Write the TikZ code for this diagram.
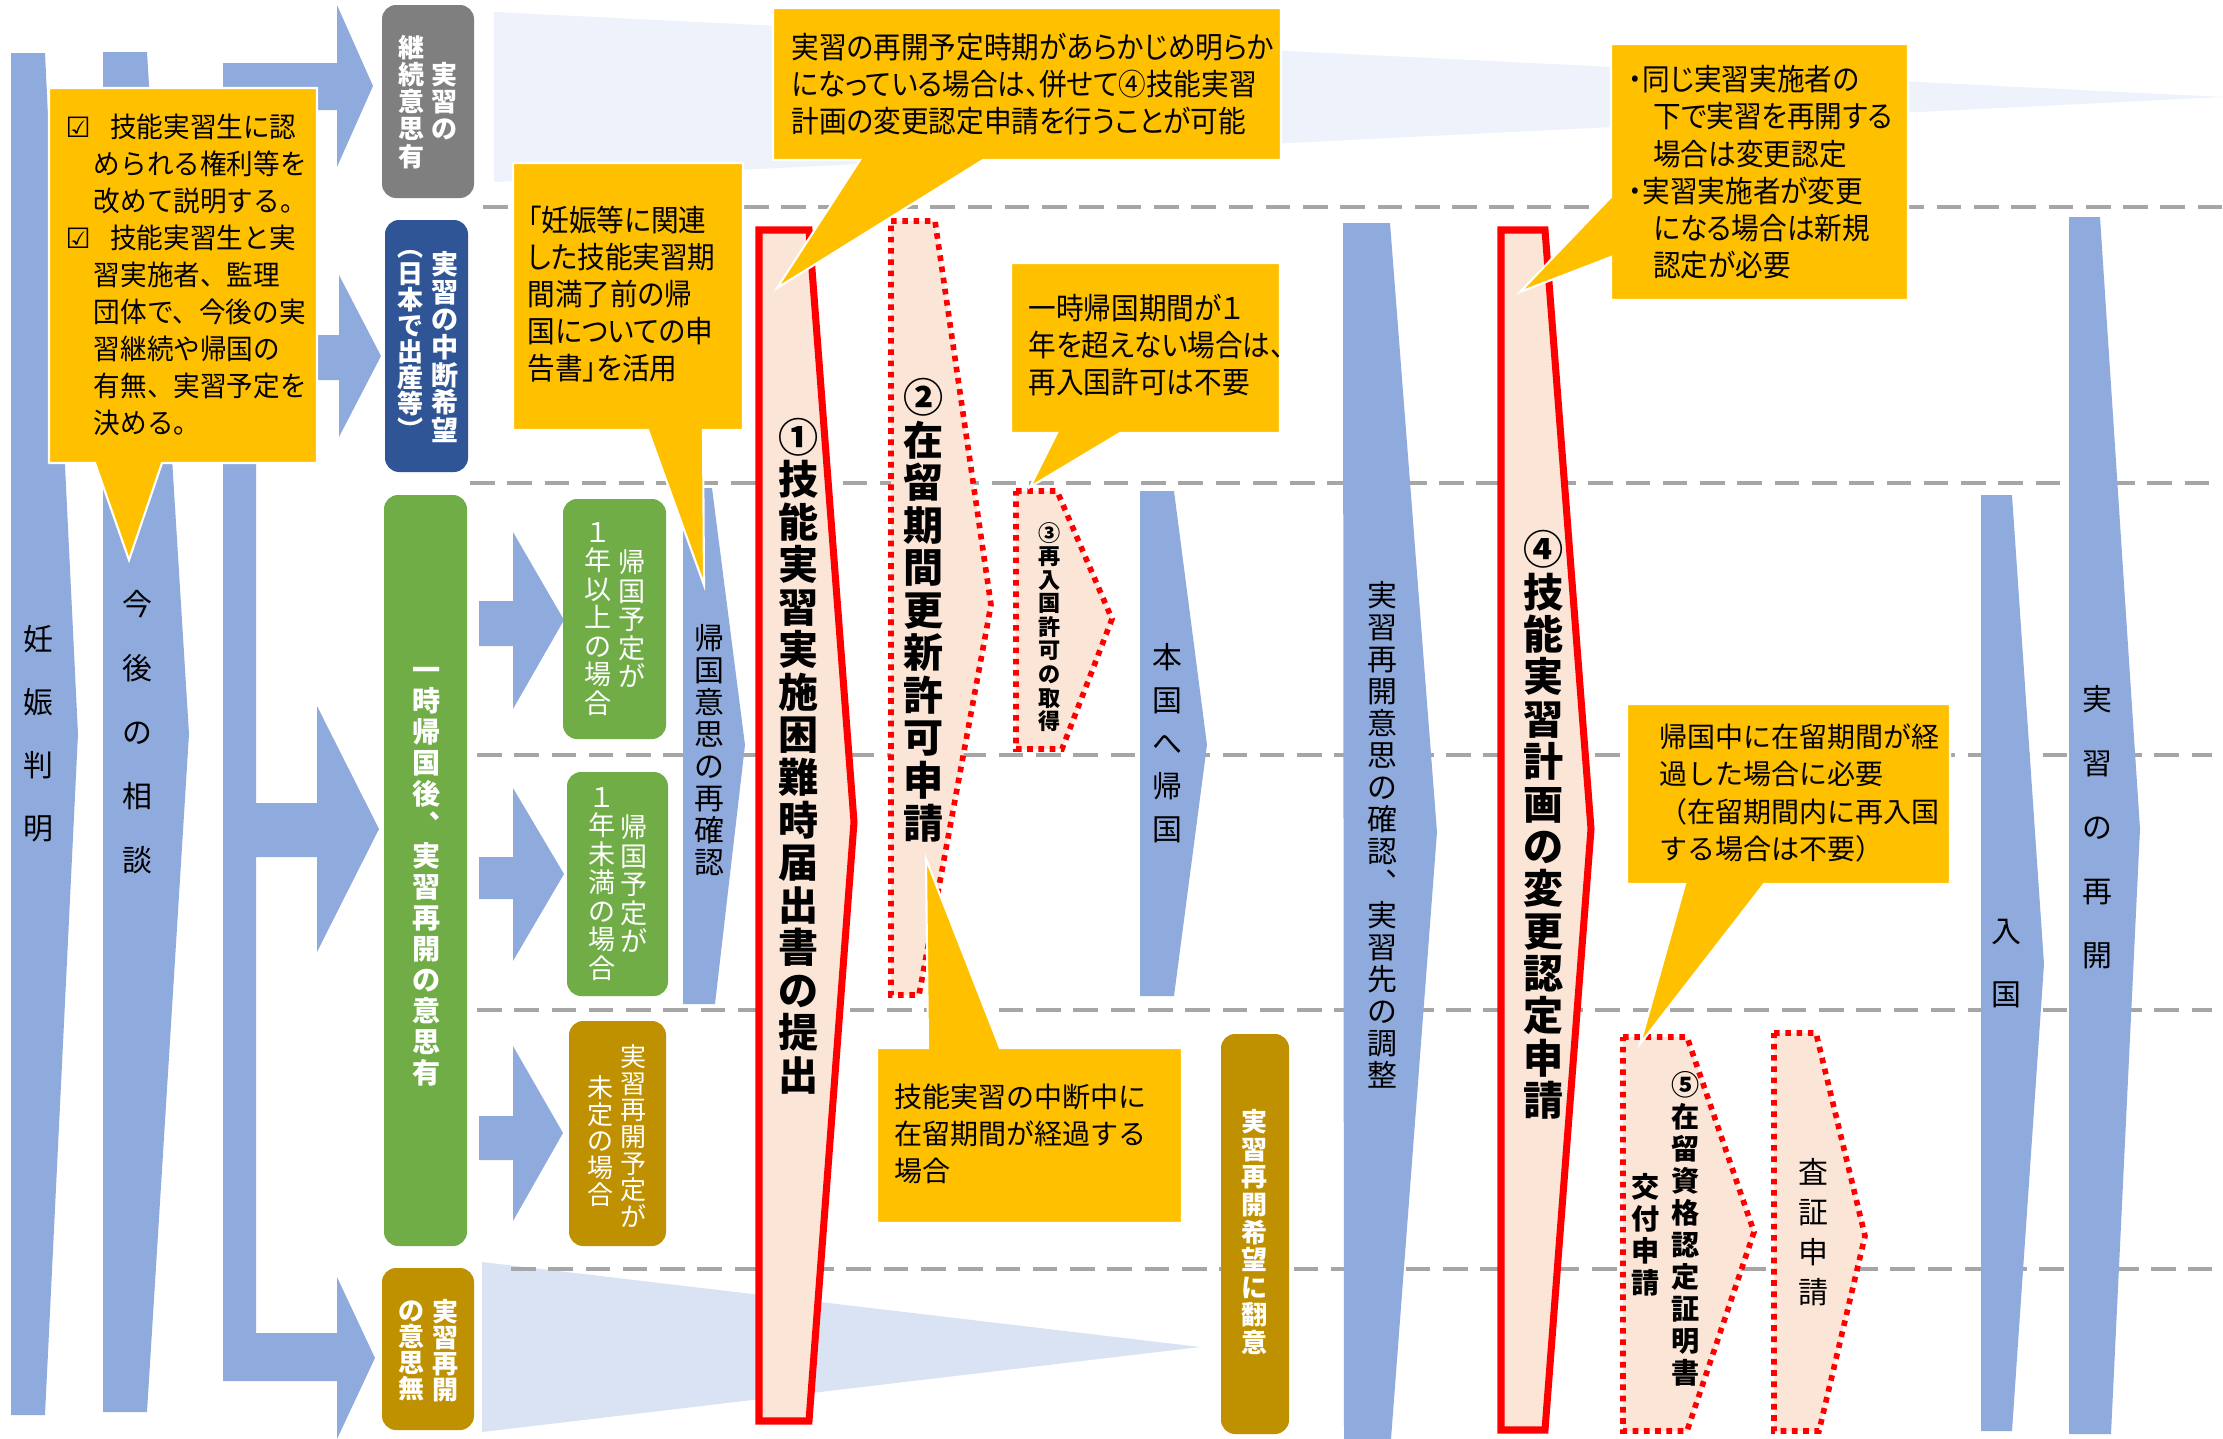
\documentclass[tikz,border=0pt]{standalone}
\usepackage{fontspec}
\setmainfont{Noto Sans CJK JP}
\newfontfamily\jpp[RawFeature=+palt,FakeStretch=0.92]{Noto Sans CJK JP}
\newfontfamily\jpn[FakeStretch=0.95]{Noto Sans CJK JP}
\newfontfamily\dejavu{DejaVu Sans}
\definecolor{arrblue}{HTML}{8FAADC}
\definecolor{callyel}{HTML}{FFC000}
\definecolor{boxgray}{HTML}{7F7F7F}
\definecolor{boxnavy}{HTML}{2F5597}
\definecolor{boxgreen}{HTML}{70AD47}
\definecolor{boxolive}{HTML}{BF9000}
\definecolor{peach}{HTML}{FBE5D6}
\definecolor{linegray}{HTML}{A6A6A6}
\definecolor{wedgetop}{HTML}{EEF2FA}
\definecolor{wedgebot}{HTML}{DAE3F3}
\definecolor{redline}{HTML}{FF0000}
\makeatletter
\newcommand\vt[3]{\vbox{\fontsize{#1}{#2}\selectfont\baselineskip=#2\relax\lineskiplimit=-100pt\relax\lineskip=0pt\relax\@tfor\vt@c:=#3\do{\hbox to #1{\hss\vt@c\hss}}}}
\makeatother
\begin{document}
\begin{tikzpicture}[x=0.01cm,y=-0.01cm,
  bluearr/.style={fill=arrblue},
  redsolid/.style={fill=peach,draw=redline,line width=2pt},
  reddot/.style={fill=peach,draw=redline,line width=1.6pt,dash pattern=on 1.6pt off 1.6pt},
  yelcallout/.style={fill=callyel,draw=white,line width=0.6pt,line join=miter},
  gline/.style={draw=linegray,line width=1.4pt,dash pattern=on 7pt off 3.6pt},
  rbox/.style={rounded corners=4pt},
  lbl/.style={inner sep=0pt,text=black},
  wlbl/.style={inner sep=0pt,text=white,font=\bfseries},
  wlbln/.style={inner sep=0pt,text=white},
  ctext/.style={inner sep=0pt,anchor=north west,align=left},
  cfont/.style={font=\fontsize{7.97pt}{10.53pt}\selectfont},
  pfont/.style={font=\jpp\fontsize{8.54pt}{10.53pt}\selectfont},
]
\useasboundingbox (0,0) rectangle (2223,1439);
\fill[white] (0,0) rectangle (2223,1439);

% background wedges
\fill[wedgetop] (494,12) -- (2223,97) -- (494,182) -- cycle;
\fill[wedgebot] (482,1262) -- (1200,1347) -- (482,1432) -- cycle;

% dashed guide lines
\draw[gline] (483,207) -- (2223,207);
\draw[gline] (470,483) -- (2215,483);
\draw[gline] (477,755) -- (2212,755);
\draw[gline] (477,1010) -- (2212,1010);
\draw[gline] (511,1269) -- (2212,1269);

% blue arrows
\fill[bluearr] (11,53) -- (45,53) -- (78,734) -- (45,1415) -- (11,1415) -- cycle;
\fill[bluearr] (103,52) -- (147,52) -- (189,734) -- (147,1412) -- (103,1412) -- cycle;
\fill[bluearr] (223,63) -- (337,63) -- (337,5) -- (373,86) -- (337,167) -- (337,110)
  -- (256,110) -- (256,335) -- (339,335) -- (339,275) -- (381,356) -- (339,437) -- (339,380)
  -- (256,380) -- (256,803) -- (317,803) -- (317,706) -- (379,829) -- (317,952) -- (317,857)
  -- (256,857) -- (256,1333) -- (337,1333) -- (337,1277) -- (375,1358) -- (337,1439) -- (337,1381)
  -- (223,1381) -- cycle;
\fill[bluearr] (479,601) -- (513,601) -- (513,532) -- (564,620) -- (513,709) -- (513,646) -- (479,646) -- cycle;
\fill[bluearr] (479,857) -- (513,857) -- (513,788) -- (564,874) -- (513,961) -- (513,899) -- (479,899) -- cycle;
\fill[bluearr] (479,1116) -- (513,1116) -- (513,1046) -- (563,1133) -- (513,1221) -- (513,1160) -- (479,1160) -- cycle;
\fill[bluearr] (683,488) -- (712,488) -- (745,745) -- (715,1004) -- (683,1004) -- cycle;
\fill[bluearr] (1140,491) -- (1174,491) -- (1207,745) -- (1174,996) -- (1140,996) -- cycle;
\fill[bluearr] (1343,223) -- (1390,223) -- (1437,832) -- (1391,1439) -- (1344,1439) -- cycle;
\fill[bluearr] (1981,495) -- (2012,495) -- (2044,964) -- (2012,1431) -- (1981,1431) -- cycle;
\fill[bluearr] (2069,217) -- (2100,217) -- (2140,829) -- (2111,1434) -- (2069,1434) -- cycle;

% coloured boxes
\fill[rbox,boxgray] (382,5) rectangle (474,198);
\fill[rbox,boxnavy] (385,220) rectangle (468,472);
\fill[rbox,boxgreen] (384,495) rectangle (467,1246);
\fill[rbox,boxolive] (382,1268) rectangle (474,1430);
\fill[rbox,boxgreen] (563,499) rectangle (666,739);
\fill[rbox,boxgreen] (567,772) rectangle (668,996);
\fill[rbox,boxolive] (569,1021) rectangle (666,1246);
\fill[rbox,boxolive] (1221,1034) rectangle (1289,1434);

% red arrows
\filldraw[redsolid] (759,230) -- (809,230) -- (854,822) -- (809,1421) -- (759,1421) -- cycle;
\filldraw[reddot] (891,221) -- (935,221) -- (991,605) -- (919,995) -- (891,995) -- cycle;
\filldraw[reddot] (1016,491) -- (1057,491) -- (1112,619) -- (1062,749) -- (1016,749) -- cycle;
\filldraw[redsolid] (1501,230) -- (1545,230) -- (1591,829) -- (1545,1430) -- (1501,1430) -- cycle;
\filldraw[reddot] (1623,1037) -- (1687,1037) -- (1754,1232) -- (1687,1431) -- (1623,1431) -- cycle;
\filldraw[reddot] (1774,1033) -- (1816,1033) -- (1865,1236) -- (1819,1431) -- (1774,1431) -- cycle;

% arrow labels
\node[lbl] (ninshin) at (38,734) {\vt{8.5pt}{17.9pt}{妊娠判明}};
\node[lbl] (kongo) at (137,732) {\vt{8.5pt}{18.2pt}{今後の相談}};
\node[lbl] (kikokuishi) at (709,750) {\vt{8.5pt}{9.1pt}{帰国意思の再確認}};
\node[lbl] (hongoku) at (1167,743) {\vt{8.5pt}{12.2pt}{本国へ帰国}};
\node[lbl] (saikaiishi) at (1382,835) {\vt{8.5pt}{9.1pt}{実習再開意思の確認︑実習先の調整}};
\node[lbl] (sasho) at (1813,1232) {\vt{8.5pt}{11.4pt}{査証申請}};
\node[lbl] (nyukoku) at (2006,964) {\vt{8.5pt}{17.9pt}{入国}};
\node[lbl] (saikai) at (2097,827) {\vt{8.5pt}{18.2pt}{実習の再開}};

\node[lbl,font=\bfseries] (lab1) at (799,756) {\vt{11.4pt}{12.1pt}{①技能実習実施困難時届出書の提出}};
\node[lbl,font=\bfseries] (lab2) at (924,610) {\vt{11.4pt}{12.1pt}{②在留期間更新許可申請}};
\node[lbl,font=\bfseries] (lab3) at (1050,627) {\vt{6.3pt}{6.7pt}{③再入国許可の取得}};
\node[lbl,font=\bfseries] (lab4) at (1544,825) {\vt{11.4pt}{12.05pt}{④技能実習計画の変更認定申請}};
\node[lbl,font=\bfseries] (lab5a) at (1686,1229) {\vt{8pt}{9.1pt}{⑤在留資格認定証明書}};
\node[lbl,font=\bfseries] (lab5b) at (1646,1235) {\vt{8pt}{9.1pt}{交付申請}};

% box labels
\node[wlbl] (keizokuA) at (445,101) {\vt{7.4pt}{7.6pt}{実習の}};
\node[wlbl] (keizokuB) at (412,102) {\vt{7.4pt}{7.7pt}{継続意思有}};
\node[wlbl] (chudanA) at (445,347) {\vt{7.7pt}{7.85pt}{実習の中断希望}};
\node[wlbl] (chudanB) at (411,345) {\vt{7.4pt}{7.4pt}{︵日本で出産等︶}};
\node[wlbl] (ichiji) at (427,877) {\vt{8pt}{8.82pt}{一時帰国後︑実習再開の意思有}};
\node[wlbl] (mushiA) at (446,1351) {\vt{7.4pt}{7.4pt}{実習再開}};
\node[wlbl] (mushiB) at (412,1351) {\vt{7.4pt}{7.4pt}{の意思無}};
\node[wlbln] (ijoA) at (632,619) {\vt{7.7pt}{8.1pt}{帰国予定が}};
\node[wlbln] (ijoB) at (598,619) {\vt{7.7pt}{8.1pt}{１年以上の場合}};
\node[wlbln] (mimanA) at (634,884) {\vt{7.7pt}{8.1pt}{帰国予定が}};
\node[wlbln] (mimanB) at (602,884) {\vt{7.7pt}{8.1pt}{１年未満の場合}};
\node[wlbln] (miteiA) at (634,1136) {\vt{7.4pt}{7.6pt}{実習再開予定が}};
\node[wlbln] (miteiB) at (601,1141) {\vt{7.4pt}{7.6pt}{未定の場合}};
\node[wlbl] (honi) at (1255,1232) {\vt{7.4pt}{7.85pt}{実習再開希望に翻意}};

% callouts
\filldraw[yelcallout] (49,88) -- (317,88) -- (317,463) -- (162,463) -- (129,560) -- (95,463) -- (49,463) -- cycle;
\filldraw[yelcallout] (513,163) -- (743,163) -- (743,430) -- (703,430) -- (704,585) -- (648,430) -- (513,430) -- cycle;
\filldraw[yelcallout] (773,8) -- (1281,8) -- (1281,160) -- (983,160) -- (777,288) -- (860,160) -- (773,160) -- cycle;
\filldraw[yelcallout] (1011,263) -- (1280,263) -- (1280,433) -- (1120,433) -- (1030,487) -- (1057,433) -- (1011,433) -- cycle;
\filldraw[yelcallout] (1611,44) -- (1908,44) -- (1908,300) -- (1611,300) -- (1611,257) -- (1520,292) -- (1611,197) -- cycle;
\filldraw[yelcallout] (877,1048) -- (928,1048) -- (926,859) -- (1000,1048) -- (1182,1048) -- (1182,1223) -- (877,1223) -- cycle;
\filldraw[yelcallout] (1627,704) -- (1950,704) -- (1950,884) -- (1764,884) -- (1640,1044) -- (1685,884) -- (1627,884) -- cycle;

\node[ctext,font=\jpn\fontsize{7.97pt}{10.53pt}\selectfont] (c1) at (65,113) {{\dejavu ☑}\hspace{5.5pt}技能実習生に認\\
\hspace*{8pt}められる権利等を\\
\hspace*{8pt}改めて説明する。\\
{\dejavu ☑}\hspace{5.5pt}技能実習生と実\\
\hspace*{8pt}習実施者、監理\\
\hspace*{8pt}団体で、今後の実\\
\hspace*{8pt}習継続や帰国の\\
\hspace*{8pt}有無、実習予定を\\
\hspace*{8pt}決める。};
\node[ctext,pfont] (c2) at (527,205) {「妊娠等に関連\\した技能実習期\\間満了前の帰\\国についての申\\告書」を活用};
\node[ctext,pfont] (c3) at (791,32) {実習の再開予定時期があらかじめ明らか\\になっている場合は、併せて④技能実習\\計画の変更認定申請を行うことが可能};
\node[ctext,pfont] (c4) at (1028,293) {一時帰国期間が１\\年を超えない場合は、\\再入国許可は不要};
\node[ctext,pfont] (c5) at (1628,65) {・同じ実習実施者の\\
\hspace*{7pt}下で実習を再開する\\
\hspace*{7pt}場合は変更認定\\
・実習実施者が変更\\
\hspace*{7pt}になる場合は新規\\
\hspace*{7pt}認定が必要};
\node[ctext,cfont] (c6) at (894,1083) {技能実習の中断中に\\在留期間が経過する\\場合};
\node[ctext,font=\fontsize{7.97pt}{10.67pt}\selectfont] (c7) at (1659,723) {帰国中に在留期間が経\\過した場合に必要\\（在留期間内に再入国\\する場合は不要）};
\end{tikzpicture}
\end{document}
